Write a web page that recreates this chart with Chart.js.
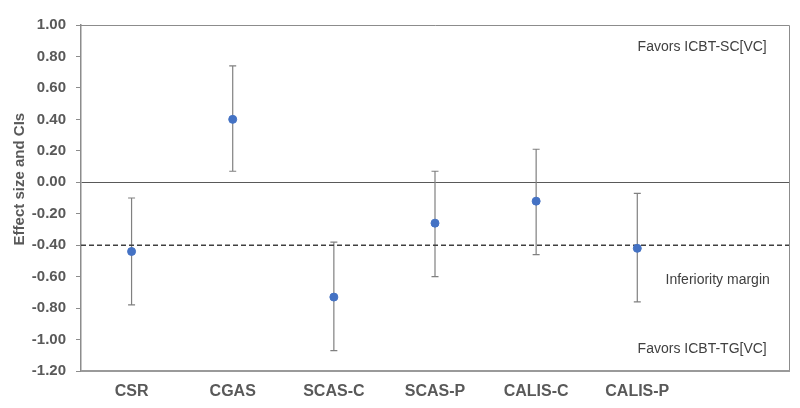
<!DOCTYPE html>
<html>
<head>
<meta charset="utf-8">
<script src="https://cdn.jsdelivr.net/npm/chart.js@4.4.1/dist/chart.umd.min.js"></script>
<style>
  html, body { margin: 0; padding: 0; background: #fff; }
  #wrap { width: 800px; height: 408px; }
</style>
</head>
<body>
<div id="wrap"><canvas id="chart" width="800" height="408"></canvas></div>
<script>
// Outcome measures and effect sizes with 95% CIs
const categories = ['CSR', 'CGAS', 'SCAS-C', 'SCAS-P', 'CALIS-C', 'CALIS-P'];
const effectSizes = [-0.44, 0.40, -0.73, -0.26, -0.12, -0.42];
const ciLower = [-0.78, 0.07, -1.07, -0.60, -0.46, -0.76];
const ciUpper = [-0.10, 0.74, -0.38, 0.07, 0.21, -0.07];
const inferiorityMargin = -0.40;
const yTickValues = [1.0, 0.8, 0.6, 0.4, 0.2, 0.0, -0.2, -0.4, -0.6, -0.8, -1.0, -1.2];

Chart.defaults.font.family = "'Liberation Sans', Arial, sans-serif";

const xSlots = categories.length + 1; // one empty slot on the right for the notes

// error bars with caps, drawn under the points
const errorBars = {
  id: 'errorBars',
  beforeDatasetsDraw(chart) {
    const { ctx, scales: { x, y } } = chart;
    ctx.save();
    ctx.strokeStyle = '#808080';
    ctx.lineWidth = 1.2;
    categories.forEach((c, i) => {
      const px = x.getPixelForValue(i + 0.5);
      const top = y.getPixelForValue(ciUpper[i]);
      const bot = y.getPixelForValue(ciLower[i]);
      ctx.beginPath();
      ctx.moveTo(px, top); ctx.lineTo(px, bot);
      ctx.moveTo(px - 3.5, top); ctx.lineTo(px + 3.5, top);
      ctx.moveTo(px - 3.5, bot); ctx.lineTo(px + 3.5, bot);
      ctx.stroke();
    });
    ctx.restore();
  }
};

// plot frame, axis title + text notes
const frameAndNotes = {
  id: 'frameAndNotes',
  afterDraw(chart) {
    const { ctx, chartArea: a, scales: { x, y } } = chart;
    ctx.save();
    ctx.strokeStyle = '#8c8c8c';
    ctx.lineWidth = 1;
    ctx.beginPath();
    ctx.moveTo(a.left, a.top + 0.5); ctx.lineTo(a.right + 0.5, a.top + 0.5);
    ctx.lineTo(a.right + 0.5, a.bottom);
    ctx.stroke();
    ctx.strokeStyle = '#9a9a9a';
    ctx.lineWidth = 2;
    ctx.beginPath();
    ctx.moveTo(a.left, a.bottom); ctx.lineTo(a.right + 1, a.bottom);
    ctx.stroke();

    ctx.fillStyle = '#404040';
    ctx.font = "14px 'Liberation Sans', Arial, sans-serif";
    ctx.textAlign = 'right';
    ctx.textBaseline = 'middle';
    ctx.fillText('Favors ICBT-SC[VC]', x.getPixelForValue(6.78), y.getPixelForValue(0.86));
    ctx.fillText('Inferiority margin', x.getPixelForValue(6.81), y.getPixelForValue(-0.62));
    ctx.fillText('Favors ICBT-TG[VC]', x.getPixelForValue(6.78), y.getPixelForValue(-1.06));

    // y axis title (sits a little above the plot centre, as in the original)
    ctx.translate(20, y.getPixelForValue(0.02));
    ctx.rotate(-Math.PI / 2);
    ctx.textAlign = 'center';
    ctx.fillStyle = '#595959';
    ctx.font = "bold 15px 'Liberation Sans', Arial, sans-serif";
    ctx.fillText('Effect size and CIs', 0, 0);
    ctx.restore();
  }
};

new Chart(document.getElementById('chart'), {
  type: 'scatter',
  data: {
    datasets: [
      {
        label: 'Effect size',
        data: effectSizes.map((v, i) => ({ x: i + 0.5, y: v })),
        backgroundColor: '#4472C4',
        borderColor: '#4472C4',
        pointRadius: 4,
        pointHoverRadius: 4,
        order: 0
      },
      {
        label: 'Inferiority margin',
        type: 'line',
        data: [{ x: 0, y: inferiorityMargin }, { x: xSlots, y: inferiorityMargin }],
        borderColor: '#404040',
        borderWidth: 1.5,
        borderDash: [5, 3],
        pointRadius: 0,
        fill: false,
        order: 1
      }
    ]
  },
  options: {
    responsive: false,
    animation: false,
    layout: { padding: { top: 25, right: 11, left: 0, bottom: 0 } },
    plugins: {
      legend: { display: false },
      tooltip: { enabled: false }
    },
    scales: {
      x: {
        type: 'linear',
        min: 0,
        max: xSlots,
        grid: { display: false },
        border: { display: false },
        afterBuildTicks: (scale) => {
          scale.ticks = categories.map((c, i) => ({ value: i + 0.5 }));
        },
        afterFit: (scale) => { scale.height = 37; },
        ticks: {
          autoSkip: false,
          maxRotation: 0,
          padding: 3,
          color: '#595959',
          font: { size: 16, weight: 'bold' },
          callback: (v) => categories[Math.round(v - 0.5)]
        }
      },
      y: {
        min: -1.2,
        max: 1.0,
        afterBuildTicks: (scale) => {
          scale.ticks = yTickValues.map(v => ({ value: v }));
        },
        afterFit: (scale) => { scale.width = 81; },
        border: { display: true, color: '#8c8c8c', width: 1.5 },
        grid: {
          drawOnChartArea: true,
          drawTicks: true,
          tickLength: 5,
          tickColor: '#8c8c8c',
          color: (c) => (c.tick && Math.abs(c.tick.value) < 1e-9) ? '#595959' : 'rgba(0,0,0,0)',
          lineWidth: 1
        },
        ticks: {
          padding: 10,
          color: '#595959',
          font: { size: 15, weight: 'bold' },
          callback: (v) => Number(v).toFixed(2)
        },
        title: { display: false }
      }
    }
  },
  plugins: [errorBars, frameAndNotes]
});
</script>
</body>
</html>
